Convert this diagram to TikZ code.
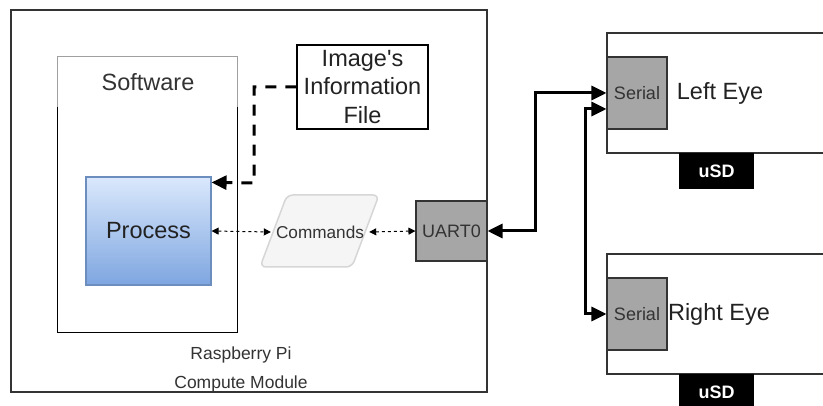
\documentclass[tikz,border=0pt]{standalone}
\usepackage{fontspec}
\setmainfont{Liberation Sans}
\usetikzlibrary{arrows.meta,calc}

\definecolor{frame}{HTML}{333333}
\definecolor{headline}{HTML}{A0A0A0}
\definecolor{txt}{HTML}{222222}
\definecolor{softtxt}{HTML}{333333}
\definecolor{procTop}{HTML}{DAE8FC}
\definecolor{procBot}{HTML}{7EA6E0}
\definecolor{procLine}{HTML}{6C8EBF}
\definecolor{portFill}{HTML}{A6A6A6}
\definecolor{ioFill}{HTML}{F5F5F5}
\definecolor{ioLine}{HTML}{D6D6D6}

\tikzset{
  box/.style={rectangle, inner sep=0pt, draw=frame, line width=1.1pt},
  port/.style={box, fill=portFill, text=softtxt, font=\fontsize{18}{21}\selectfont},
  sdcard/.style={rectangle, inner sep=0pt, fill=black, text=white,
    font=\bfseries\fontsize{18}{21}\selectfont, minimum width=75pt, minimum height=36pt},
  biglabel/.style={text=txt, font=\fontsize{23.5}{28.5}\selectfont, align=center, inner sep=0pt},
  link/.style={line width=3pt, {Triangle[length=15pt,width=14pt]}-{Triangle[length=15pt,width=14pt]}},
  filelink/.style={line width=3pt, dash pattern=on 11pt off 9pt, -{Triangle[length=15pt,width=14pt]}},
  cmdlink/.style={line width=1pt, dash pattern=on 3pt off 3pt,
    {Triangle[length=7pt,width=7pt]}-{Triangle[length=7pt,width=7pt]}}
}

\begin{document}
\begin{tikzpicture}[x=1pt,y=-1pt]
\useasboundingbox (0,0) rectangle (823,406);
\clip (0,0) rectangle (823,406);
\fill[white] (0,0) rectangle (823,406);

% Compute module frame
\node[box, minimum width=476pt, minimum height=382pt] (rpi) at (249,201) {};
\node[text=softtxt, font=\fontsize{17.5}{29}\selectfont, align=center, inner sep=0pt]
  (rpilbl) at (241,369) {Raspberry Pi\\Compute Module};

% Software container: light header, dark body
\node[rectangle, inner sep=0pt, minimum width=179pt, minimum height=275pt] (sw) at (147.5,194.5) {};
\draw[headline, line width=1.1pt] ($(sw.north west)+(0,50)$) -- (sw.north west)
  -- (sw.north east) -- ($(sw.north east)+(0,50)$);
\draw[black, line width=1.1pt] ($(sw.north west)+(0,50)$) -- (sw.south west)
  -- (sw.south east) -- ($(sw.north east)+(0,50)$);
\node[biglabel, text=softtxt] (swlbl) at (148,82) {Software};

% Process block
\node[rectangle, inner sep=0pt, draw=procLine, line width=1.1pt,
  top color=procTop, bottom color=procBot,
  minimum width=125pt, minimum height=108pt, text=txt,
  font=\fontsize{23.5}{28.5}\selectfont] (proc) at (148.5,231) {Process};

% Image information file
\node[box, draw=black, minimum width=131pt, minimum height=84pt] (info) at (362.5,87) {};
\node[biglabel] (infolbl) at (362.5,87) {Image\textquotesingle s\\Information\\File};

% Commands data block
\draw[ioLine, fill=ioFill, line width=1.5pt, rounded corners=6pt]
  (260,267) -- (287,195) -- (379,195) -- (352,267) -- cycle;
\node[rectangle, inner sep=0pt, minimum width=98pt, minimum height=20pt,
  text=softtxt, font=\fontsize{17.2}{20}\selectfont] (cmd) at (320,232) {Commands};

% UART port
\node[port, minimum width=71pt, minimum height=60pt] (uart) at (451.5,231) {UART0};

% Eye boards
\node[box, minimum width=230pt, minimum height=120pt] (leye) at (722,93) {};
\node[box, minimum width=230pt, minimum height=120pt] (reye) at (722,314) {};
\node[port, minimum width=60pt, minimum height=72pt] (ls) at (637,93) {Serial};
\node[port, minimum width=60pt, minimum height=72pt] (rs) at (637,314) {Serial};
\node[biglabel] (leyelbl) at (720,93) {Left Eye};
\node[biglabel] (reyelbl) at (719,314) {Right Eye};
\node[sdcard] (lsd) at (716.5,171) {uSD};
\node[sdcard] (rsd) at (716.5,392) {uSD};

% Connectors
\coordinate (dj) at (254,183);
\coordinate (pin) at ($(proc.north east)+(0,6)$);
\draw[filelink] (info.west) -| (dj) -- (pin);

\draw[cmdlink] (proc.east) -- (cmd.west);
\draw[cmdlink] (cmd.east) -- (uart.west);

\coordinate (j1) at (535,231);
\draw[link] (uart.east) -- (j1) |- (ls.west);

\coordinate (lsin) at ($(ls.west)+(0,16)$);
\coordinate (j2) at (585,314);
\draw[link] (lsin) -| (j2) -- (rs.west);
\end{tikzpicture}
\end{document}
